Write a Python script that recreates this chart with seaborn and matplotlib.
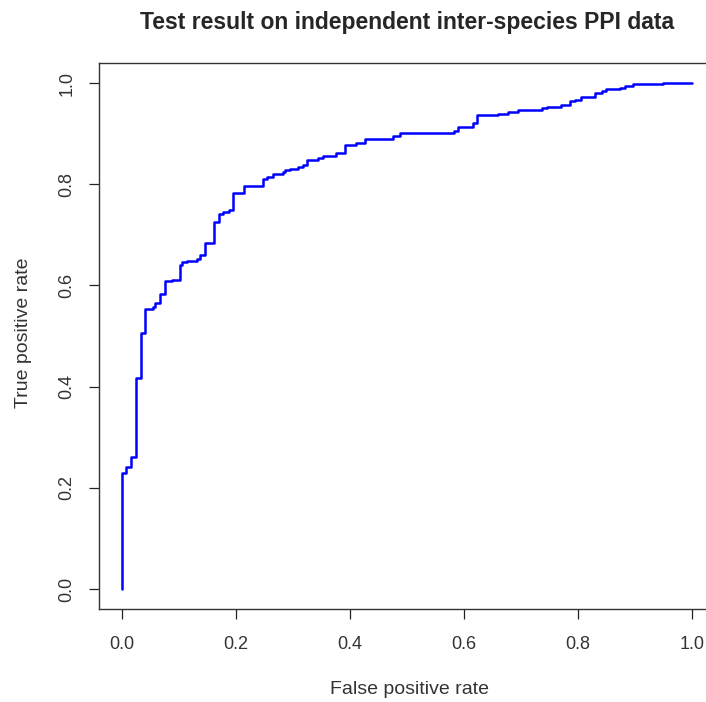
import matplotlib
matplotlib.use("Agg")
import matplotlib.pyplot as plt
import seaborn as sns
import pandas as pd

sns.set_style("white")
plt.rcParams['font.family'] = ['Liberation Sans', 'DejaVu Sans']

fpr = [0.0, 0.0, 0.007, 0.016, 0.025, 0.033, 0.041, 0.055, 0.058, 0.067, 0.076,
       0.087, 0.101, 0.105, 0.114, 0.131, 0.136, 0.146, 0.162, 0.170, 0.178,
       0.187, 0.195, 0.214, 0.247, 0.254, 0.265, 0.282, 0.286, 0.295, 0.309,
       0.318, 0.324, 0.343, 0.353, 0.375, 0.391, 0.411, 0.426, 0.476, 0.488,
       0.582, 0.590, 0.615, 0.622, 0.660, 0.677, 0.695, 0.736, 0.746, 0.771,
       0.786, 0.795, 0.806, 0.829, 0.842, 0.850, 0.874, 0.882, 0.897, 0.950, 1.0]
tpr = [0.0, 0.229, 0.241, 0.261, 0.417, 0.506, 0.553, 0.557, 0.565, 0.583, 0.609,
       0.611, 0.640, 0.647, 0.649, 0.652, 0.660, 0.683, 0.726, 0.741, 0.745,
       0.749, 0.783, 0.796, 0.810, 0.814, 0.820, 0.825, 0.828, 0.830, 0.834,
       0.838, 0.848, 0.852, 0.855, 0.862, 0.877, 0.882, 0.889, 0.896, 0.902,
       0.905, 0.913, 0.921, 0.937, 0.939, 0.943, 0.946, 0.951, 0.953, 0.957,
       0.964, 0.967, 0.972, 0.980, 0.985, 0.988, 0.990, 0.995, 0.998, 1.0, 1.0]
ticks = [0.0, 0.2, 0.4, 0.6, 0.8, 1.0]
tick_labels = ["0.0", "0.2", "0.4", "0.6", "0.8", "1.0"]

df = pd.DataFrame({"fpr": fpr, "tpr": tpr})

W, H = 706, 702
ax_l, ax_r, ax_t, ax_b = 99.2, 714.8, 62.8, 609.2

fig = plt.figure(figsize=(W / 100, H / 100), dpi=100)
ax = fig.add_axes([ax_l / W, (H - ax_b) / H, (ax_r - ax_l) / W, (ax_b - ax_t) / H])
sns.lineplot(data=df, x="fpr", y="tpr", ax=ax, estimator=None, sort=False,
             drawstyle="steps-post", color="#0000ff", linewidth=1.8)

ax.set_xlim(-0.04, 1.04)
ax.set_ylim(-0.04, 1.04)
ax.set_xticks(ticks)
ax.set_xticklabels(tick_labels)
ax.set_yticks(ticks)
ax.set_yticklabels(tick_labels, rotation=90, va="center")
ax.tick_params(direction="out", length=7.2, width=0.9, colors="#222222",
               labelsize=13, labelcolor="#333333",
               bottom=True, left=True)
ax.tick_params(axis="x", pad=12)
ax.tick_params(axis="y", pad=10)
for s in ax.spines.values():
    s.set_color("#333333")
    s.set_linewidth(1.0)
ax.set_xlabel("False positive rate", fontsize=14, color="#333333", va="center")
ax.set_ylabel("True positive rate", fontsize=14, color="#333333", va="center")
ax.xaxis.set_label_coords((410 - ax_l) / (ax_r - ax_l), (ax_b - 690) / (ax_b - ax_t))
ax.yaxis.set_label_coords((23 - ax_l) / (ax_r - ax_l), (ax_b - 333) / (ax_b - ax_t))
fig.text(407 / W, 1 - 22 / H, "Test result on independent inter-species PPI data",
         ha="center", va="center", fontsize=16.5, fontweight="bold")

fig.savefig("out.png", dpi=100)
